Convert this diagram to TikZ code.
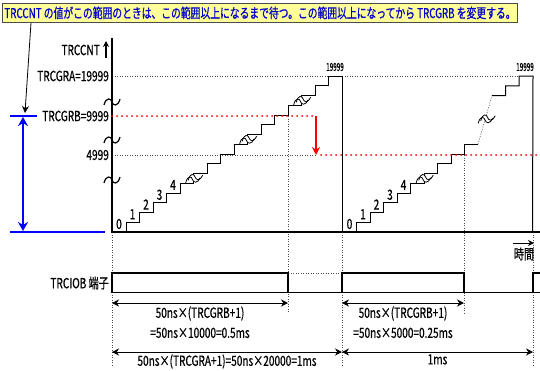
\documentclass[tikz,border=0pt]{standalone}
\usepackage{fontspec}
\setmainfont{Noto Sans CJK JP}[FakeStretch=0.72, FakeBold=0.6]
\usetikzlibrary{arrows.meta}

\definecolor{notefill}{RGB}{255,255,153}
\definecolor{notetext}{RGB}{0,0,204}

\tikzset{
  lbl/.style={font=\fontsize{14}{16}\selectfont, inner sep=1pt},
  small/.style={font=\fontsize{11}{12}\selectfont, inner sep=1pt},
  gdot/.style={gray!60!black, line width=0.6pt, dash pattern=on 1pt off 1.5pt},
  rdot/.style={red, line width=2pt, line cap=round, dash pattern=on 0pt off 5pt},
  stair/.style={black, line width=1pt},
  sig/.style={black, line width=1.8pt},
  dim/.style={{Stealth[length=7pt,width=7pt]}-{Stealth[length=7pt,width=7pt]}, line width=0.8pt},
  brk/.pic={\draw[line width=1.2pt] (-8,3) .. controls (-6,-5) and (-1,-4) .. (0,0) .. controls (1,4) and (6,5) .. (8,-3);},
  stepbrk/.pic={
    \begin{scope}[scale=0.85]
    \fill[white] (-8,4) .. controls (-6,-5) and (-1,-4) .. (0,0) .. controls (1,4) and (6,5) .. (9,-2)
      -- (12,-5) .. controls (9,2) and (4,1) .. (3,-3) .. controls (2,-7) and (-3,-8) .. (-5,1) -- cycle;
    \draw[line width=0.8pt] (-8,4) .. controls (-6,-5) and (-1,-4) .. (0,0) .. controls (1,4) and (6,5) .. (9,-2);
    \draw[line width=0.8pt] (-5,1) .. controls (-3,-8) and (2,-7) .. (3,-3) .. controls (4,1) and (9,2) .. (12,-5);
    \end{scope}}
}

\begin{document}
\begin{tikzpicture}[x=1pt,y=-1pt]
    \useasboundingbox[fill=white] (0,0) rectangle (540,370);

    % note on top
    \node[draw=black!70, line width=0.8pt, fill=notefill, text=notetext, anchor=north west,
          font=\fontsize{13.6}{16}\selectfont, minimum width=512pt, minimum height=19pt, inner sep=2pt] (note) at (2,3)
          {TRCCNT の値がこの範囲のときは、この範囲以上になるまで待つ。この範囲以上になってから TRCGRB を変更する。};

    % guide lines
    \draw[gdot] (112,76) -- (518,76);
    \draw[gdot] (112,155) -- (316,155);
    \draw[gdot] (288,116) -- (288,313);
    \draw[gdot] (464,155) -- (464,313);
    \draw[gdot] (112,232) -- (112,366);
    \draw[gdot] (342,232) -- (342,366);
    \draw[gdot] (533,232) -- (533,366);
    \draw[gdot] (288,273) -- (342,273);

    % counter
    \draw[stair] (112,232) -- (126,232) foreach \k in {1,...,16}{ -- ++(0,-9.75) -- ++(13.5,0) } -- (342,232);
    \draw[stair] (342,232) -- (356.5,232) foreach \k in {1,...,9}{ -- ++(0,-9.75) -- ++(13.5,0) } coordinate (gap1);
    \coordinate (gap2) at (492,95.5);
    \draw[gdot] (gap1) -- (gap2);
    \draw[stair] (gap2) -- ++(13.5,0) -- ++(0,-9.75) -- ++(13.5,0) -- ++(0,-9.75) -- ++(14,0) -- (532.5,232);

    \foreach \x/\y in {192.5/179.5, 246.5/140.5, 300.5/101.5, 423/179.5}
        \pic at (\x,\y) {stepbrk};
    \pic at (485,120) {stepbrk};

    \foreach \k in {0,...,4}{
        \node[lbl] at (119+13.5*\k,224-9.75*\k) {\k};
        \node[lbl] at (349.5+13.5*\k,224-9.75*\k) {\k};
    }
    \node[small] at (335,67) {\scalebox{0.8}[1]{19999}};
    \node[small] at (525,67) {\scalebox{0.8}[1]{19999}};

    % axes
    \draw[line width=1.2pt] (112,38) -- (112,232) -- (540,232);
    \foreach \y in {102,140,180}
        \pic at (112,\y) {brk};
    \node[lbl, anchor=east] (cnt) at (101,50) {TRCCNT};
    \draw[-{Stealth[length=6pt,width=6pt]}, line width=1.4pt] (106,58) -- (106,41);
    \node[lbl, anchor=east] (gra) at (110,76) {TRCGRA=19999};
    \node[lbl, anchor=east] (grb) at (110,116) {TRCGRB=9999};
    \node[lbl, anchor=east] (half) at (110,155) {4999};
    \draw[-{Stealth[length=6pt,width=6pt]}, line width=1pt] (513,243) -- (534,243);
    \node[lbl] (time) at (524,254) {時間};

    % TRCGRB change
    \draw[rdot] (112,116) -- (316,116);
    \draw[rdot] (321,155) -- (536,155);
    \draw[red, line width=2pt, -{Stealth[length=8pt,width=8pt]}] (316,116) -- (316,155);

    % range bracket
    \coordinate (ptr) at (25,113);
    \draw[-{Stealth[length=7pt,width=7pt]}, line width=0.8pt] ([xshift=29pt]note.south west) -- (ptr);
    \draw[blue, line width=2pt] (10,116) -- (37,116);
    \draw[blue, line width=2pt] (10,232) -- (105,232);
    \draw[blue, line width=2pt, {Stealth[length=9pt,width=10pt]}-{Stealth[length=9pt,width=10pt]}] (23,117) -- (23,231);

    % output pin
    \node[lbl, anchor=east] (pin) at (110,283) {TRCIOB 端子};
    \draw[sig] (112,292.5) -- (540,292.5);
    \draw[sig] (112,292.5) -- (112,273) -- (288,273) -- (288,292.5);
    \draw[sig] (342,292.5) -- (342,273) -- (464,273) -- (464,292.5);
    \draw[sig] (533,292.5) -- (533,273) -- (541,273);

    % periods
    \coordinate (t0) at (112,303);
    \coordinate (t1) at (288,303);
    \coordinate (t2) at (342,303);
    \coordinate (t3) at (464,303);
    \draw[dim] (t0) -- (t1) node[midway, below=2pt, lbl, align=center, font=\fontsize{14}{20}\selectfont]
        {50ns×(TRCGRB+1)\\=50ns×10000=0.5ms};
    \draw[dim] (t2) -- (t3) node[midway, below=2pt, lbl, align=center, font=\fontsize{14}{20}\selectfont]
        {50ns×(TRCGRB+1)\\=50ns×5000=0.25ms};
    \coordinate (p0) at (112,352);
    \coordinate (p1) at (342,352);
    \coordinate (p2) at (533,352);
    \draw[dim] (p0) -- (p1) node[midway, below=1pt, lbl] {50ns×(TRCGRA+1)=50ns×20000=1ms};
    \draw[dim] (p1) -- (p2) node[midway, below=1pt, lbl] {1ms};
\end{tikzpicture}
\end{document}
